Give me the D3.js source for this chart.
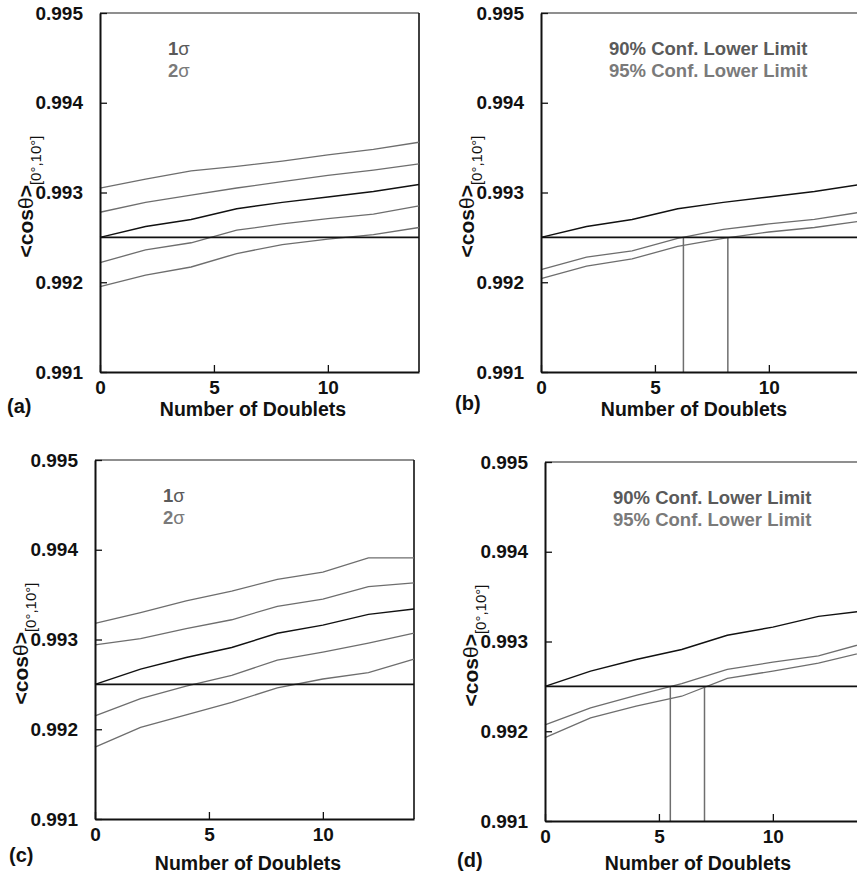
<!DOCTYPE html>
<html>
<head>
<meta charset="utf-8">
<script src="https://cdn.jsdelivr.net/npm/d3@7"></script>
<style>
  html, body { margin: 0; padding: 0; background: #fff; }
  svg { display: block; }
  text { font-family: "Liberation Sans", Arial, Helvetica, sans-serif; }
</style>
</head>
<body>
<svg id="chart" width="857" height="880"></svg>
<script>
// Number of doublets sampled (x positions of every curve)
const doublets = [0, 2, 4, 6, 8, 10, 12, 14];
const yTicks = [0.991, 0.992, 0.993, 0.994, 0.995];
const xTicks = [0, 5, 10];
const yTickLabels = ["0.991", "0.992", "0.993", "0.994", "0.995"];
const xTickLabels = ["0", "5", "10"];
const reference = 0.9925;

// Top row: mean <cos θ> and its bands
const meanTop = [0.99250, 0.99262, 0.99270, 0.99282, 0.99289, 0.99295, 0.99301, 0.99309];
const aUp2 = [0.99305, 0.99315, 0.99324, 0.99329, 0.99335, 0.99342, 0.99348, 0.99356];
const aUp1 = [0.99278, 0.99289, 0.99297, 0.99305, 0.99312, 0.99319, 0.99325, 0.99332];
const aLo1 = [0.99222, 0.99236, 0.99244, 0.99258, 0.99265, 0.99271, 0.99276, 0.99285];
const aLo2 = [0.99195, 0.99208, 0.99217, 0.99232, 0.99242, 0.99248, 0.99253, 0.99261];
const bLim90 = [0.99214, 0.99228, 0.99235, 0.99249, 0.99259, 0.99265, 0.99270, 0.99278];
const bLim95 = [0.99204, 0.99218, 0.99226, 0.99240, 0.99249, 0.99256, 0.99261, 0.99268];
const bCross = [6.25, 8.2];

// Bottom row
const meanBottom = [0.99250, 0.99267, 0.99280, 0.99291, 0.99307, 0.99316, 0.99328, 0.99334];
const cUp2 = [0.99318, 0.99330, 0.99343, 0.99354, 0.99367, 0.99375, 0.99391, 0.99391];
const cUp1 = [0.99294, 0.99301, 0.99312, 0.99322, 0.99337, 0.99345, 0.99359, 0.99363];
const cLo1 = [0.99215, 0.99234, 0.99248, 0.99260, 0.99277, 0.99286, 0.99296, 0.99307];
const cLo2 = [0.99180, 0.99202, 0.99216, 0.99230, 0.99246, 0.99256, 0.99263, 0.99278];
const dLim90 = [0.99207, 0.99226, 0.99240, 0.99253, 0.99269, 0.99277, 0.99284, 0.99298];
const dLim95 = [0.99193, 0.99215, 0.99228, 0.99239, 0.99259, 0.99267, 0.99276, 0.99288];
const dCross = [5.5, 7.0];

const sigmaLabels = ["1σ", "2σ"];
const limitLabels = ["90% Conf. Lower Limit", "95% Conf. Lower Limit"];

const panels = [
  { tag: "(a)", left: 100, top: 13, mean: meanTop, bands: [aUp2, aUp1, aLo1, aLo2], legend: sigmaLabels, cross: null, titleDy: 44, tagX: 7, tagY: 413 },
  { tag: "(b)", left: 541, top: 13, mean: meanTop, bands: [bLim90, bLim95], legend: limitLabels, cross: bCross, titleDy: 44, tagX: 455, tagY: 410 },
  { tag: "(c)", left: 95, top: 460, mean: meanBottom, bands: [cUp2, cUp1, cLo1, cLo2], legend: sigmaLabels, cross: null, titleDy: 51, tagX: 9, tagY: 862 },
  { tag: "(d)", left: 545, top: 462, mean: meanBottom, bands: [dLim90, dLim95], legend: limitLabels, cross: dCross, titleDy: 49, tagX: 457, tagY: 867 }
];

const W = 319, H = 359;
const svg = d3.select("#chart");

panels.forEach(p => {
  const g = svg.append("g").attr("transform", `translate(${p.left},${p.top})`);
  const x = d3.scaleLinear().domain([0, 14]).range([0, W]);
  const y = d3.scaleLinear().domain([0.991, 0.995]).range([H, 0]);
  const line = d3.line().x((d, i) => x(doublets[i])).y(d => y(d));

  // frame: grey top, black right
  g.append("line").attr("x1", 0).attr("x2", W).attr("y1", 0).attr("y2", 0)
    .attr("stroke", "#6a6a6a").attr("stroke-width", 1.6);
  g.append("line").attr("x1", W).attr("x2", W).attr("y1", 0).attr("y2", H)
    .attr("stroke", "#111").attr("stroke-width", 1.6);

  // band / limit curves
  p.bands.forEach(s => {
    g.append("path").datum(s).attr("d", line)
      .attr("fill", "none").attr("stroke", "#6e6e6e").attr("stroke-width", 1.3);
  });

  // vertical markers where the limits cross the reference value
  if (p.cross) {
    p.cross.forEach(c => {
      g.append("line").attr("x1", x(c)).attr("x2", x(c))
        .attr("y1", y(reference)).attr("y2", y(0.991))
        .attr("stroke", "#6e6e6e").attr("stroke-width", 1.5);
    });
  }

  // reference level
  g.append("line").attr("x1", 0).attr("x2", W)
    .attr("y1", y(reference)).attr("y2", y(reference))
    .attr("stroke", "#111").attr("stroke-width", 1.8);

  // mean curve
  g.append("path").datum(p.mean).attr("d", line)
    .attr("fill", "none").attr("stroke", "#111").attr("stroke-width", 1.5);

  // y axis (inward ticks)
  const yAxis = d3.axisLeft(y).tickValues(yTicks)
    .tickFormat((d, i) => yTickLabels[i]).tickSizeInner(-7).tickSizeOuter(0).tickPadding(17);
  const ya = g.append("g").call(yAxis);
  ya.select(".domain").attr("stroke", "#111").attr("stroke-width", 2);
  ya.selectAll(".tick line").attr("stroke", "#111").attr("stroke-width", 1.3);
  ya.selectAll(".tick text").attr("font-size", 19).attr("font-weight", "bold")
    .attr("fill", "#111").attr("font-family", "Liberation Sans, Arial, sans-serif");

  // x axis (inward ticks)
  const xAxis = d3.axisBottom(x).tickValues(xTicks)
    .tickFormat((d, i) => xTickLabels[i]).tickSizeInner(-7).tickSizeOuter(0).tickPadding(9);
  const xa = g.append("g").attr("transform", `translate(0,${H})`).call(xAxis);
  xa.select(".domain").attr("stroke", "#111").attr("stroke-width", 2);
  xa.selectAll(".tick line").attr("stroke", "#111").attr("stroke-width", 1.3);
  xa.selectAll(".tick text").attr("font-size", 19).attr("font-weight", "bold")
    .attr("fill", "#111").attr("font-family", "Liberation Sans, Arial, sans-serif");

  // x title
  g.append("text").attr("x", 153).attr("y", H + p.titleDy)
    .attr("text-anchor", "middle").attr("font-size", 19.5).attr("font-weight", "bold")
    .attr("fill", "#111").text("Number of Doublets");

  // y title: <cosθ> with [0°,10°] subscript
  const yt = g.append("text")
    .attr("transform", `translate(-67,${H / 2 + 4}) rotate(-90)`)
    .attr("text-anchor", "middle").attr("fill", "#111");
  yt.append("tspan").attr("font-size", 21).attr("font-weight", "bold").text("<cos");
  yt.append("tspan").attr("font-size", 21).text("θ");
  yt.append("tspan").attr("font-size", 21).attr("font-weight", "bold").text(">");
  yt.append("tspan").attr("font-size", 15).attr("dy", 8).text("[0°,10°]");

  // legend
  const legColors = ["#5a5a5a", "#7a7a7a"];
  p.legend.forEach((t, i) => {
    const lt = g.append("text").attr("x", 68).attr("y", 42 + i * 22)
      .attr("font-size", 18.5).attr("font-weight", "bold").attr("fill", legColors[i]);
    if (t.endsWith("σ")) {
      lt.append("tspan").text(t.slice(0, -1));
      lt.append("tspan").attr("font-weight", "normal").text("σ");
    } else {
      lt.text(t);
    }
  });

  // panel tag
  svg.append("text").attr("x", p.tagX).attr("y", p.tagY)
    .attr("font-size", 20).attr("font-weight", "bold").attr("fill", "#111").text(p.tag);
});
</script>
</body>
</html>
